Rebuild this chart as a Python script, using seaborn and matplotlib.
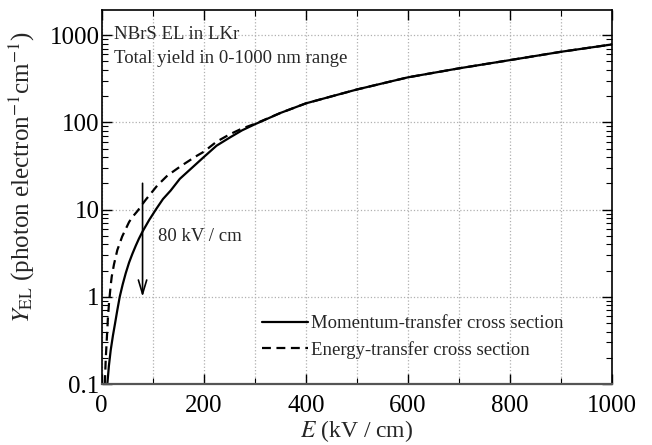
import matplotlib
matplotlib.use("Agg")
import matplotlib.pyplot as plt
import seaborn as sns
from matplotlib.ticker import FixedLocator, FixedFormatter, MultipleLocator, LogLocator, NullFormatter

# field (kV/cm) and yield (photons per electron per cm)
E_momentum = [11, 14, 17.6, 22, 26, 30.5, 35.3, 41, 47, 53.6, 60, 66.7, 73, 80, 93, 107, 120, 135,
              153, 200, 225, 251, 275, 300, 350, 400, 467, 500, 600, 700, 800, 900, 1000]
Y_momentum = [0.1, 0.16, 0.244, 0.36, 0.49, 0.7, 1.0, 1.38, 1.86, 2.47, 3.1, 3.85, 4.65, 5.6, 7.6,
              10.2, 13.2, 16.5, 22.5, 40.0, 54.0, 67.0, 81.0, 95.0, 128.0, 165.0, 211.0, 238.0,
              328.0, 416.0, 517.0, 644.0, 782.0]

E_energy = [6, 8, 10, 12, 14.3, 17.6, 19.6, 24, 30.6, 34, 40, 53.6, 60, 70, 80, 86, 109, 128.6, 155,
            184, 200, 225, 251, 275, 300, 350, 400, 467, 500, 600, 700, 800, 900, 1000]
Y_energy = [0.1, 0.2, 0.33, 0.55, 0.85, 1.35, 1.7, 2.35, 3.44, 3.9, 4.9, 7.2, 8.2, 9.6, 11.6, 12.9,
            18.9, 24.5, 31.5, 40.6, 46.0, 60.0, 73.0, 85.0, 96.0, 128.0, 165.0, 211.0, 238.0,
            328.0, 416.0, 517.0, 644.0, 782.0]

y_ticks = [0.1, 1, 10, 100, 1000]
y_tick_labels = ["0.1", "1", "10", "100", "1000"]

sns.set_theme(style="ticks")
plt.rcParams["font.family"] = ["Liberation Serif", "DejaVu Serif"]
plt.rcParams["mathtext.fontset"] = "stix"

fig = plt.figure(figsize=(6.52, 4.45), dpi=100)
ax = fig.add_axes([0.156, 0.137, 0.783, 0.841])

sns.lineplot(x=E_momentum, y=Y_momentum, ax=ax, color="black", lw=1.6,
             label="Momentum-transfer cross section")
sns.lineplot(x=E_energy, y=Y_energy, ax=ax, color="black", lw=1.6, linestyle=(0, (4, 2.5)),
             label="Energy-transfer cross section")

ax.set_yscale("log")
ax.set_xlim(0, 1000)
ax.set_ylim(0.1, 1950)

ax.xaxis.set_major_locator(MultipleLocator(200))
ax.xaxis.set_minor_locator(MultipleLocator(100))
ax.yaxis.set_major_locator(FixedLocator(y_ticks))
ax.yaxis.set_major_formatter(FixedFormatter(y_tick_labels))
ax.yaxis.set_minor_locator(LogLocator(base=10, subs=range(2, 10)))
ax.yaxis.set_minor_formatter(NullFormatter())

ax.tick_params(which="both", direction="in", top=True, right=True, colors="black")
ax.tick_params(which="major", length=7, width=1, labelsize=18)
ax.tick_params(axis="x", which="major", pad=8)
ax.tick_params(axis="y", which="major", pad=1.5)
ax.tick_params(which="minor", length=4, width=0.8)

ax.grid(which="major", axis="both", ls=":", color="#b0b0b0", lw=0.9)
ax.grid(which="minor", axis="x", ls=":", color="#b0b0b0", lw=0.9)

for s in ["top", "right", "left"]:
    ax.spines[s].set_color("black")
    ax.spines[s].set_linewidth(1.2)
ax.spines["bottom"].set_color("#555555")
ax.spines["bottom"].set_linewidth(1.6)

ax.set_xlabel("$E$ (kV / cm)", fontsize=17)
ax.set_ylabel("$Y_{\\rm EL}$ (photon electron$^{-1}$cm$^{-1}$)", fontsize=18)
ax.yaxis.set_label_coords(-0.127, 0.553)
ax.xaxis.set_label_coords(0.5, -0.09)

ax.text(0.025, 0.933, "NBrS EL in LKr", transform=ax.transAxes, fontsize=13.5, va="center", ha="left")
ax.text(0.025, 0.87, "Total yield in 0-1000 nm range", transform=ax.transAxes, fontsize=13.5,
        va="center", ha="left")

ax.annotate("", xy=(80, 1.0), xytext=(80, 20),
            arrowprops=dict(arrowstyle="->, head_length=0.5, head_width=0.15", color="black",
                            lw=1.2, mutation_scale=20, shrinkA=0, shrinkB=0))
ax.text(111, 4.9, "80 kV / cm", fontsize=13.5, va="center", ha="left")

ax.legend(loc="upper left", bbox_to_anchor=(0.314, 0.184), frameon=False, fontsize=13.5,
          borderpad=0, borderaxespad=0, handlelength=2.45, handletextpad=0.15, labelspacing=0.45)

fig.savefig("out.png", dpi=100)
